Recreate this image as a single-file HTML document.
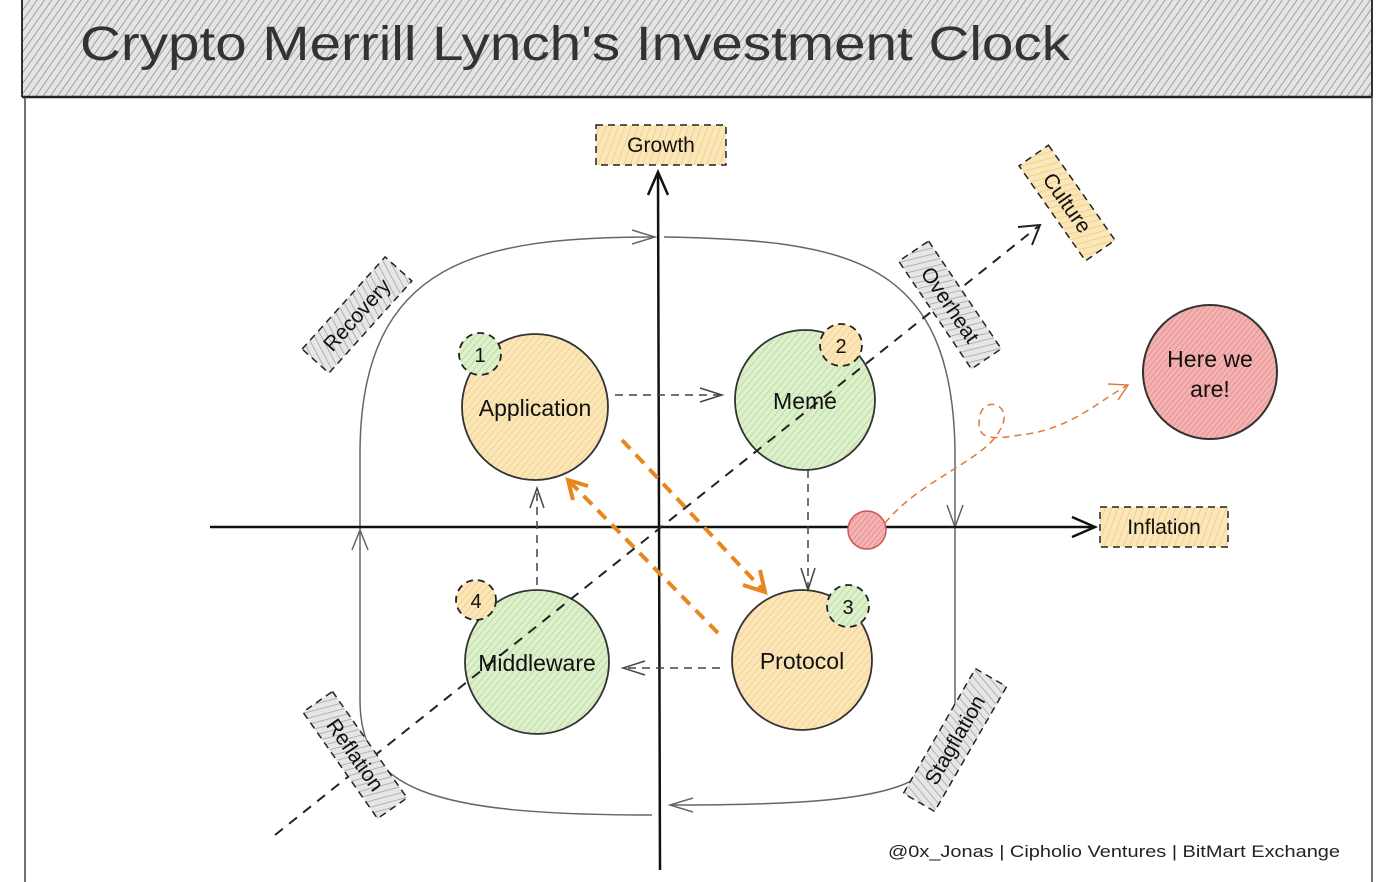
<!DOCTYPE html>
<html><head><meta charset="utf-8"><style>
html,body{margin:0;padding:0;background:#fff;}
svg{display:block;font-family:"Liberation Sans",sans-serif;}
</style></head><body>
<svg width="1398" height="882" viewBox="0 0 1398 882" xmlns="http://www.w3.org/2000/svg">
<defs>
<pattern id="hg" width="6" height="6" patternUnits="userSpaceOnUse" patternTransform="rotate(35)"><rect width="6" height="6" fill="#e4e4e4"/><line x1="0" y1="0" x2="0" y2="6" stroke="#888" stroke-width="1.5"/></pattern>
<pattern id="hy" width="5" height="5" patternUnits="userSpaceOnUse" patternTransform="rotate(40)"><rect width="5" height="5" fill="#fae6b8"/><line x1="0" y1="0" x2="0" y2="5" stroke="#f1c97a" stroke-width="1.3"/></pattern>
<pattern id="hgr" width="5" height="5" patternUnits="userSpaceOnUse" patternTransform="rotate(40)"><rect width="5" height="5" fill="#ddefcc"/><line x1="0" y1="0" x2="0" y2="5" stroke="#a9d58a" stroke-width="1.3"/></pattern>
<pattern id="hr" width="4" height="4" patternUnits="userSpaceOnUse" patternTransform="rotate(40)"><rect width="4" height="4" fill="#f4b3b3"/><line x1="0" y1="0" x2="0" y2="4" stroke="#e27b7b" stroke-width="1.2"/></pattern>
<pattern id="hl" width="6" height="6" patternUnits="userSpaceOnUse" patternTransform="rotate(20)"><rect width="6" height="6" fill="#e6e6e6"/><line x1="0" y1="0" x2="0" y2="6" stroke="#9c9c9c" stroke-width="1.4"/></pattern>
<pattern id="hly" width="6" height="6" patternUnits="userSpaceOnUse" patternTransform="rotate(20)"><rect width="6" height="6" fill="#fae6b8"/><line x1="0" y1="0" x2="0" y2="6" stroke="#eec87e" stroke-width="1.4"/></pattern>
</defs>

<!-- header -->
<rect x="22" y="-2" width="1350" height="99" fill="url(#hg)"/>
<line x1="22" y1="97" x2="1372" y2="97" stroke="#222" stroke-width="2.5"/>
<line x1="22" y1="0" x2="22" y2="97" stroke="#333" stroke-width="2"/>
<line x1="1372" y1="0" x2="1372" y2="97" stroke="#333" stroke-width="2"/>
<line x1="25" y1="97" x2="25" y2="882" stroke="#444" stroke-width="1.5"/>
<line x1="1372" y1="97" x2="1372" y2="882" stroke="#444" stroke-width="1.5"/>
<text x="80" y="60" font-size="48" fill="#333" textLength="990" lengthAdjust="spacingAndGlyphs">Crypto Merrill Lynch's Investment Clock</text>

<!-- cycle -->
<path d="M655 237 C480 237 362 260 360 450 L360 700 C360 790 430 815 652 815" fill="none" stroke="#666" stroke-width="1.5"/>
<path d="M664 237 C850 240 952 260 955 450 L955 700 C955 790 900 805 670 805" fill="none" stroke="#666" stroke-width="1.5"/>
<path d="M632 230 L655 237 L632 244" fill="none" stroke="#666" stroke-width="1.5"/>
<path d="M947 505 L955 527 L963 505" fill="none" stroke="#666" stroke-width="1.5"/>
<path d="M693 798 L670 805 L693 812" fill="none" stroke="#666" stroke-width="1.5"/>
<path d="M352 550 L360 530 L368 550" fill="none" stroke="#666" stroke-width="1.5"/>

<!-- axes -->
<line x1="658" y1="172" x2="660" y2="870" stroke="#111" stroke-width="2.5"/>
<path d="M648 195 L658 172 L668 195" fill="none" stroke="#111" stroke-width="2.5"/>
<line x1="210" y1="527" x2="1095" y2="527" stroke="#111" stroke-width="2.5"/>
<path d="M1072 517 L1095 527 L1072 537" fill="none" stroke="#111" stroke-width="2.5"/>

<!-- circles -->
<circle cx="535" cy="407" r="73" fill="url(#hy)" stroke="#333" stroke-width="1.8"/>
<circle cx="805" cy="400" r="70" fill="url(#hgr)" stroke="#333" stroke-width="1.8"/>
<circle cx="537" cy="662" r="72" fill="url(#hgr)" stroke="#333" stroke-width="1.8"/>
<circle cx="802" cy="660" r="70" fill="url(#hy)" stroke="#333" stroke-width="1.8"/>
<circle cx="1210" cy="372" r="67" fill="url(#hr)" stroke="#333" stroke-width="2"/>
<circle cx="867" cy="530" r="19" fill="url(#hr)" stroke="#c55" stroke-width="1.5"/>

<!-- diagonal (over circles) -->
<line x1="275" y1="835" x2="1040" y2="225" stroke="#222" stroke-width="2" stroke-dasharray="10,8"/>
<path d="M1018 227 L1040 225 L1032 245" fill="none" stroke="#222" stroke-width="2"/>

<circle cx="480" cy="354" r="21" fill="url(#hgr)" stroke="#222" stroke-width="1.8" stroke-dasharray="7,5"/>
<circle cx="841" cy="345" r="21" fill="url(#hy)" stroke="#222" stroke-width="1.8" stroke-dasharray="7,5"/>
<circle cx="848" cy="606" r="21" fill="url(#hgr)" stroke="#222" stroke-width="1.8" stroke-dasharray="7,5"/>
<circle cx="476" cy="600" r="20" fill="url(#hy)" stroke="#222" stroke-width="1.8" stroke-dasharray="7,5"/>
<g font-size="20" fill="#111" text-anchor="middle">
<text x="480" y="362">1</text><text x="841" y="353">2</text><text x="848" y="614">3</text><text x="476" y="608">4</text>
</g>
<g font-size="23" fill="#111" text-anchor="middle">
<text x="535" y="416">Application</text>
<text x="805" y="409">Meme</text>
<text x="537" y="671">Middleware</text>
<text x="802" y="669">Protocol</text>
<text x="1210" y="367">Here we</text>
<text x="1210" y="397">are!</text>
</g>

<!-- flow arrows -->
<g stroke="#444" stroke-width="1.5" fill="none">
<line x1="615" y1="395" x2="720" y2="395" stroke-dasharray="8,6"/><path d="M700 388 L722 395 L700 402"/>
<line x1="808" y1="470" x2="808" y2="588" stroke-dasharray="8,6"/><path d="M801 568 L808 590 L815 568"/>
<line x1="720" y1="668" x2="625" y2="668" stroke-dasharray="8,6"/><path d="M645 661 L623 668 L645 675"/>
<line x1="537" y1="585" x2="537" y2="490" stroke-dasharray="8,6"/><path d="M530 508 L537 488 L544 508"/>
</g>
<g stroke="#e8871e" stroke-width="4" fill="none">
<line x1="622" y1="440" x2="763" y2="590" stroke-dasharray="12,8"/><path d="M743 585 L765 592 L760 570"/>
<line x1="718" y1="633" x2="570" y2="482" stroke-dasharray="12,8"/><path d="M573 500 L568 480 L588 486"/>
</g>
<path d="M885 523 C920 480 985 460 1000 430 C1015 405 985 395 980 415 C975 440 990 440 1020 435 C1070 430 1100 400 1128 385" fill="none" stroke="#e07a3a" stroke-width="1.5" stroke-dasharray="7,5"/>
<path d="M1108 384 L1128 385 L1118 400" fill="none" stroke="#e07a3a" stroke-width="1.5"/>

<!-- labels -->
<g font-size="21" fill="#111" text-anchor="middle">
<rect x="596" y="125" width="130" height="40" fill="url(#hly)" stroke="#222" stroke-width="1.5" stroke-dasharray="7,5"/>
<text x="661" y="152">Growth</text>
<rect x="1100" y="507" width="128" height="40" fill="url(#hly)" stroke="#222" stroke-width="1.5" stroke-dasharray="7,5"/>
<text x="1164" y="534">Inflation</text>
<g transform="translate(1067,203) rotate(55)"><rect x="-58" y="-18" width="116" height="36" fill="url(#hly)" stroke="#222" stroke-width="1.5" stroke-dasharray="7,5"/><text y="7">Culture</text></g>
<g transform="translate(950,305) rotate(56)"><rect x="-65" y="-18" width="130" height="36" fill="url(#hl)" stroke="#222" stroke-width="1.5" stroke-dasharray="7,5"/><text y="7">Overheat</text></g>
<g transform="translate(357,315) rotate(-48)"><rect x="-62" y="-18" width="124" height="36" fill="url(#hl)" stroke="#222" stroke-width="1.5" stroke-dasharray="7,5"/><text y="7">Recovery</text></g>
<g transform="translate(355,755) rotate(55)"><rect x="-65" y="-18" width="130" height="36" fill="url(#hl)" stroke="#222" stroke-width="1.5" stroke-dasharray="7,5"/><text y="7">Reflation</text></g>
<g transform="translate(955,740) rotate(-60)"><rect x="-72" y="-18" width="144" height="36" fill="url(#hl)" stroke="#222" stroke-width="1.5" stroke-dasharray="7,5"/><text y="7">Stagflation</text></g>
</g>
<text x="888" y="857" font-size="17" fill="#222" textLength="452" lengthAdjust="spacingAndGlyphs">@0x_Jonas | Cipholio Ventures | BitMart Exchange</text>
</svg>
</body></html>
